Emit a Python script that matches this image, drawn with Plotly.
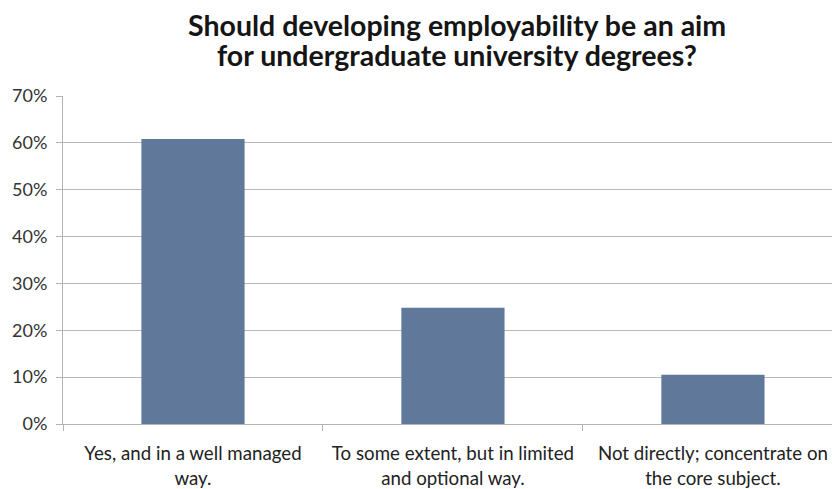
import plotly.graph_objects as go

categories = ["Yes, and in a well managed<br>way.",
              "To some extent, but in limited<br>and optional way.",
              "Not directly; concentrate on<br>the core subject."]
values = [0.608, 0.248, 0.105]
title_lines = ["Should developing employability be an aim",
               "for undergraduate university degrees?"]

fig = go.Figure(go.Bar(x=categories, y=values, marker=dict(color="#60799B", line=dict(width=0)),
                       width=0.397))

title_y = [1.275, 1.184]
annotations = [dict(text="<b>" + t + "</b>", xref="paper", yref="paper", x=0.512, y=yy,
                    xanchor="center", yanchor="top", showarrow=False,
                    font=dict(family="Lato", size=28.5, color="#151515"))
               for t, yy in zip(title_lines, title_y)]

fig.update_layout(
    width=832, height=489,
    margin=dict(l=63, r=0, t=96, b=62),
    paper_bgcolor="white", plot_bgcolor="white",
    font=dict(family="Lato", size=18, color="#333333"),
    showlegend=False,
    annotations=annotations,
)
fig.update_xaxes(range=[-0.5, 2.458], showline=True, linecolor="#b8b2ae", linewidth=1,
                 ticks="outside", tickson="boundaries", ticklen=6, tickcolor="#b8b2ae",
                 showgrid=False, tickfont=dict(size=18.7, color="#222222"), ticklabelstandoff=13)
fig.update_yaxes(range=[0, 0.7], dtick=0.1, tickformat=".0%", showline=True, linecolor="#b8b2ae",
                 linewidth=1, ticks="outside", ticklen=6, tickcolor="#b8b2ae",
                 showgrid=True, gridcolor="#bdb7b3", gridwidth=1, zeroline=False,
                 tickfont=dict(size=18, color="#333333"), ticklabelstandoff=5)

fig.write_html("out.html", config={"displayModeBar": False},
               post_script="document.body.style.margin='0';document.body.style.overflow='hidden';")
